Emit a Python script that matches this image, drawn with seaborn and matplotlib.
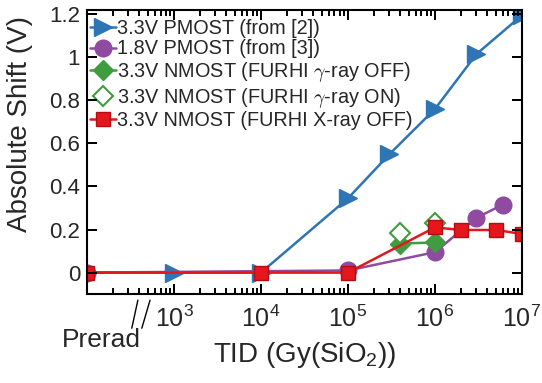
import numpy as np
import pandas as pd
import matplotlib
matplotlib.use("Agg")
import matplotlib.pyplot as plt
from matplotlib.ticker import LogLocator, NullFormatter, NullLocator
import seaborn as sns

# TID values (Gy(SiO2)); "Prerad" is drawn at 1e2
pmos33_x = [1e2, 1e3, 1e4, 1e5, 3e5, 1e6, 3e6, 1e7]
pmos33_y = [0.0, 0.0, 0.0, 0.345, 0.55, 0.76, 1.015, 1.195]

pmos18_x = [1e2, 1e5, 1e6, 3e6, 6e6]
pmos18_y = [0.0, 0.01, 0.095, 0.255, 0.315]

gamma_off_x = [4e5, 1e6]
gamma_off_y = [0.135, 0.14]

gamma_on_x = [4e5, 1e6]
gamma_on_y = [0.185, 0.23]

xray_off_x = [1e2, 1e4, 1e5, 1e6, 2e6, 5e6, 1e7]
xray_off_y = [0.0, 0.0, 0.0, 0.21, 0.198, 0.198, 0.18]

labels = [
    "3.3V PMOST (from [2])",
    "1.8V PMOST (from [3])",
    "3.3V NMOST (FURHI $\\gamma$-ray OFF)",
    "3.3V NMOST (FURHI $\\gamma$-ray ON)",
    "3.3V NMOST (FURHI X-ray OFF)",
]

xticks = [1e3, 1e4, 1e5, 1e6, 1e7]
xticklabels = ["$\\mathregular{10^{3}}$", "$\\mathregular{10^{4}}$",
               "$\\mathregular{10^{5}}$", "$\\mathregular{10^{6}}$",
               "$\\mathregular{10^{7}}$"]
yticks = [0, 0.2, 0.4, 0.6, 0.8, 1.0, 1.2]
yticklabels = ["0", "0.2", "0.4", "0.6", "0.8", "1", "1.2"]

XLIM = (1e2, 1e7)
YLIM = (-0.1, 1.22)

sns.set_style("ticks")
plt.rcParams["font.family"] = ["Liberation Sans", "DejaVu Sans"]
plt.rcParams["mathtext.fontset"] = "cm"

fig = plt.figure(figsize=(5.42, 3.83), dpi=100)
pos = [0.1605, 0.232, 0.8025, 0.742]
ax = fig.add_axes(pos)

BLUE = "#2e75b6"
PURPLE = "#8e4ba0"
GREEN = "#3f9c3f"
RED = "#e3171c"

sns.lineplot(x=pmos33_x, y=pmos33_y, ax=ax, color=BLUE, lw=1.8,
             marker=">", markersize=13, markeredgecolor=BLUE,
             markeredgewidth=1, label=labels[0])
sns.lineplot(x=pmos18_x, y=pmos18_y, ax=ax, color=PURPLE, lw=1.8,
             marker="o", markersize=12, markeredgecolor=PURPLE,
             markeredgewidth=1, label=labels[1])
sns.lineplot(x=gamma_off_x, y=gamma_off_y, ax=ax, color=GREEN, lw=1.8,
             marker="D", markersize=10, markeredgecolor=GREEN,
             markeredgewidth=1, label=labels[2])
sns.lineplot(x=gamma_on_x, y=gamma_on_y, ax=ax, color=GREEN, lw=0,
             linestyle="none", marker="D", markersize=10,
             markerfacecolor="white", markeredgecolor=GREEN,
             markeredgewidth=1.5, label=labels[3])
sns.lineplot(x=xray_off_x, y=xray_off_y, ax=ax, color=RED, lw=1.8,
             marker="s", markersize=10, markeredgecolor="#b01015",
             markeredgewidth=1, label=labels[4])

ax.set_xscale("log")
ax.set_xlim(*XLIM)
ax.set_ylim(*YLIM)
ax.set_xticks(xticks, labels=xticklabels)
ax.xaxis.set_minor_locator(LogLocator(base=10, subs=range(2, 10), numticks=100))
ax.xaxis.set_minor_formatter(NullFormatter())
ax.set_yticks(yticks, labels=yticklabels)
ax.yaxis.set_minor_locator(NullLocator())

for sp in ax.spines.values():
    sp.set_linewidth(1.5)
    sp.set_color("black")

ax.set_xlabel("TID (Gy(SiO$\\mathregular{_2}$))", fontsize=20, labelpad=6)
ax.set_ylabel("Absolute Shift (V)", fontsize=20)
ax.yaxis.set_label_coords(-0.124, 0.6)

# "Prerad" label and axis break marks
ax.text(0.033, -0.16, "Prerad", transform=ax.transAxes, fontsize=19,
        ha="center", va="center", clip_on=False)
for x0, x1 in ((0.103, 0.117), (0.126, 0.145)):
    ax.plot([x0, x1], [-0.12, -0.021],
            transform=ax.transAxes, color="black", lw=1, clip_on=False)

ax.legend(loc="upper left", bbox_to_anchor=(0.0, 0.979), frameon=False,
          fontsize=14.3, handlelength=1.3, handletextpad=0.05,
          labelspacing=0.08, borderaxespad=0.0, borderpad=0.15)

ax.tick_params(which="both", direction="in", top=True, right=True,
               color="black")
ax.tick_params(which="major", length=7, width=1.4)
ax.tick_params(axis="x", which="minor", length=4.5, width=1.2,
               bottom=True, top=True)
ax.tick_params(axis="x", which="major", labelsize=18, pad=8)
ax.tick_params(axis="y", which="major", labelsize=16, pad=5)

# transparent overlay axes carrying the inward tick marks on all four sides
axt = fig.add_axes(pos, frameon=False)
axt.set_xscale("log")
axt.set_xlim(*XLIM)
axt.set_ylim(*YLIM)
axt.set_xticks(xticks)
axt.xaxis.set_minor_locator(LogLocator(base=10, subs=range(2, 10), numticks=100))
axt.set_yticks(yticks)
axt.tick_params(which="both", direction="in", top=True, right=True,
                color="black", labelbottom=False, labelleft=False)
axt.tick_params(which="major", length=7, width=1.4)
axt.tick_params(which="minor", length=4.5, width=1.2)

fig.savefig("out.png", dpi=100)
